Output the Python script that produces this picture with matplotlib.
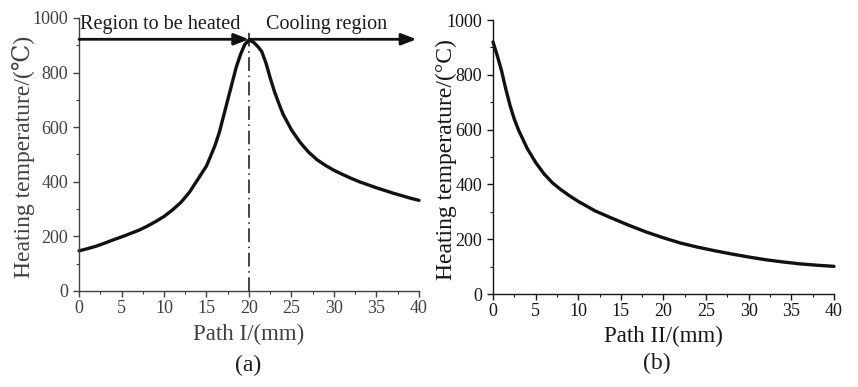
import numpy as np
import matplotlib.pyplot as plt
from matplotlib.ticker import MultipleLocator

plt.rcParams['font.family'] = ['Liberation Serif', 'DejaVu Serif']

# Path I: temperature across the heated spot (peak at 20 mm)
path1_mm = [0, 1, 2, 3, 4, 5, 6, 7, 8, 9, 10, 11, 12, 13, 14, 15, 15.5, 16,
            16.5, 17, 17.5, 18, 18.5, 19, 19.5, 20, 20.5, 21, 21.5, 22, 22.5,
            23, 23.5, 24, 25, 26, 27, 28, 29, 30, 31, 32, 33, 34, 35, 36, 37,
            38, 39, 40]
path1_temp = [147, 155, 164, 175, 187, 198, 210, 222, 237, 254, 273, 297, 325,
              362, 410, 458, 495, 533, 580, 640, 700, 760, 820, 866, 903, 919,
              912, 897, 877, 835, 780, 730, 688, 648, 590, 545, 509, 481, 460,
              442, 427, 413, 400, 389, 378, 368, 358, 349, 340, 332]

# Path II: temperature away from the heated spot
path2_mm = [0, 0.5, 1, 1.5, 2, 2.5, 3, 4, 5, 6, 7, 8, 9, 10, 12, 14, 16, 18,
            20, 22, 24, 26, 28, 30, 32, 34, 36, 38, 40]
path2_temp = [920, 870, 815, 748, 688, 638, 598, 532, 480, 438, 405, 380, 358,
              338, 303, 276, 250, 226, 205, 186, 171, 158, 146, 135, 125, 117,
              110, 105, 101]

peak_x = 20
arrow_y = 922

fig = plt.figure(figsize=(8.58, 3.87), dpi=100)
ax1 = fig.add_axes([0.0921, 0.2481, 0.3962, 0.7054])
ax2 = fig.add_axes([0.5746, 0.2403, 0.3974, 0.7080])


def style_axes(ax, col):
    for s in ['top', 'right']:
        ax.spines[s].set_visible(False)
    for s in ['left', 'bottom']:
        ax.spines[s].set_color(col)
        ax.spines[s].set_linewidth(1.0)
    ax.set_xlim(0, 40)
    ax.set_ylim(0, 1000)
    ax.xaxis.set_major_locator(MultipleLocator(5))
    ax.xaxis.set_minor_locator(MultipleLocator(2.5))
    ax.yaxis.set_major_locator(MultipleLocator(200))
    ax.yaxis.set_minor_locator(MultipleLocator(100))
    ax.tick_params(which='major', direction='out', length=4.5, width=1,
                   colors=col, labelsize=13, labelcolor=col, pad=3.5)
    ax.tick_params(which='minor', direction='out', length=2.5, width=0.8,
                   colors=col)
    ax.tick_params(axis='x', which='major', pad=2)


col1 = '#404040'
col2 = '#151515'
style_axes(ax1, col1)
style_axes(ax2, col2)

line_kw = dict(color='#111111', lw=2.4, clip_on=False,
               solid_joinstyle='round', solid_capstyle='round')
ax1.plot(path1_mm, path1_temp, **line_kw)
ax2.plot(path2_mm, path2_temp, **line_kw)

# boundary between heated and cooling region
ax1.plot([peak_x, peak_x], [0, 960], color='#111111', lw=1.1,
         linestyle=(0, (9, 3, 1, 3)), clip_on=False)

arrow_kw = dict(arrowstyle='-|>,head_length=0.9,head_width=0.35',
                color='#111111', lw=2.0, shrinkA=0, shrinkB=0)
ax1.annotate('', xy=(peak_x, arrow_y), xytext=(0, arrow_y),
             arrowprops=arrow_kw, annotation_clip=False)
ax1.annotate('', xy=(39.7, arrow_y), xytext=(peak_x, arrow_y),
             arrowprops=arrow_kw, annotation_clip=False)
ax1.text(0.1, 978, 'Region to be heated', fontsize=14.5, color='#1a1a1a',
         ha='left', va='center')
ax1.text(22.05, 978, 'Cooling region', fontsize=14.5, color='#1a1a1a',
         ha='left', va='center')

ax1.set_xlabel('Path I/(mm)', fontsize=16.5, color=col1, labelpad=5)
ax1.set_ylabel('Heating temperature/(℃)', fontsize=17, color=col1)
ax2.set_xlabel('Path II/(mm)', fontsize=16.5, color=col2, labelpad=4)
ax2.set_ylabel('Heating temperature/(°C)', fontsize=17, color=col2)
ax1.yaxis.set_label_coords(-0.129, 0.49)
ax2.yaxis.set_label_coords(-0.106, 0.49)

fig.text(248 / 858, 1 - 365 / 387, '(a)', fontsize=17, color='#1a1a1a',
         ha='center', va='center')
fig.text(657 / 858, 1 - 363 / 387, '(b)', fontsize=17, color='#1a1a1a',
         ha='center', va='center')

fig.savefig('out.png', dpi=100)
